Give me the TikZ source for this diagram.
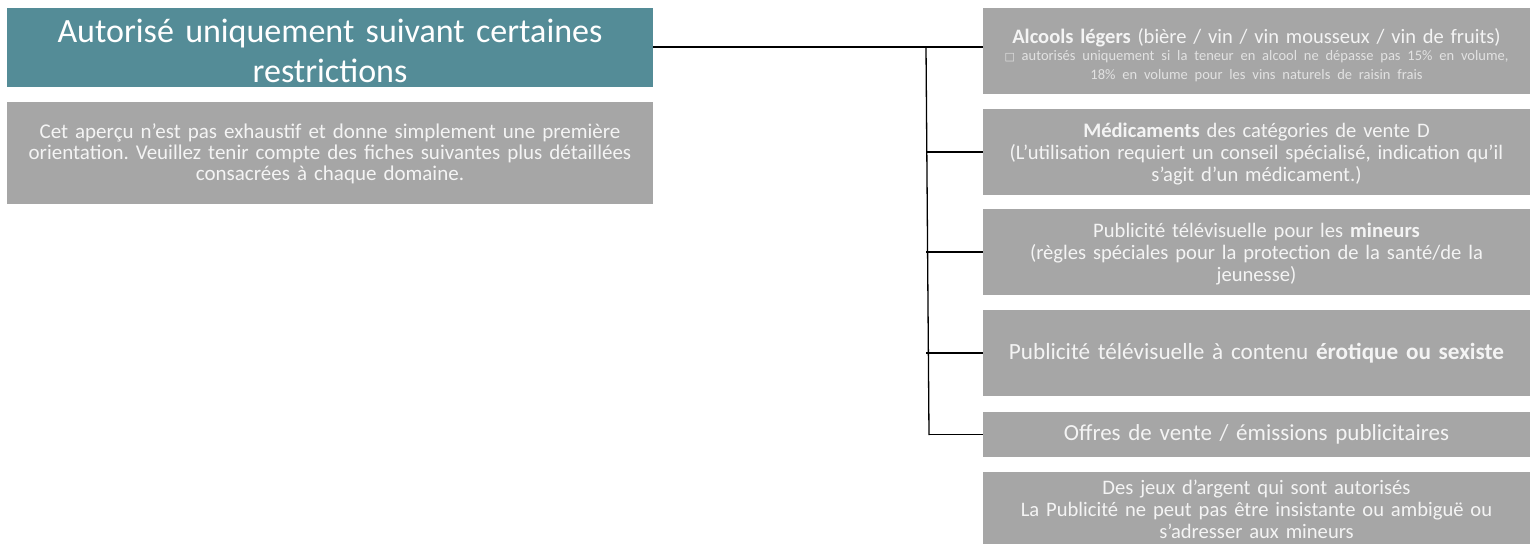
\documentclass[tikz,border=0pt]{standalone}
\usepackage{fontspec}
\setmainfont{Carlito}
\newfontfamily\symfont{DejaVu Sans}
\definecolor{teal1}{HTML}{548C97}
\definecolor{grey1}{HTML}{A6A6A6}
\definecolor{txt1}{HTML}{F4F4F4}
\definecolor{txt2}{HTML}{E2E2E2}
\frenchspacing
\begin{document}
\begin{tikzpicture}[x=1pt,y=-1pt,
  box/.style={fill=grey1,draw=none,inner sep=0pt,align=center,text=txt1,
    font=\fontsize{20.6}{22}\selectfont},
  rbox/.style={box,minimum width=547pt,text width=540pt},
  conn/.style={line width=1.3pt,black}]
\useasboundingbox (0,0) rectangle (1530,543);
\clip (0,0) rectangle (1530,543);
\node[box,fill=teal1,text=white,minimum width=646pt,minimum height=79pt,text width=640pt,
  font=\fontsize{34}{40}\selectfont] (title) at (330,47.5)
  {\rule{0pt}{31pt}Autorisé uniquement suivant certaines\\restrictions};
\node[box,minimum width=646pt,minimum height=102pt,text width=640pt,
  font=\fontsize{21}{21}\selectfont] (note) at (330,153)
  {\rule{0pt}{17pt}Cet aperçu n’est pas exhaustif et donne simplement une première\\orientation. Veuillez tenir compte des fiches suivantes plus détaillées\\consacrées à chaque domaine.};
\node[rbox,minimum height=86pt,font=\fontsize{20.5}{19}\selectfont] (b1) at (1256.5,51)
  {\rule{0pt}{23pt}\textbf{Alcools légers} (bière / vin / vin mousseux / vin de fruits)\\
   {\fontsize{14.5}{17}\selectfont\color{txt2}{\symfont\fontsize{11}{17}\selectfont □} autorisés uniquement si la teneur en alcool ne dépasse pas 15\% en volume,\\18\% en volume pour les vins naturels de raisin frais}};
\node[rbox,minimum height=86pt] (b2) at (1256.5,152)
  {\rule{0pt}{18pt}\textbf{Médicaments} des catégories de vente D\\(L’utilisation requiert un conseil spécialisé, indication qu’il\\s’agit d’un médicament.)};
\node[rbox,minimum height=86pt] (b3) at (1256.5,252)
  {\rule{0pt}{18pt}Publicité télévisuelle pour les \textbf{mineurs}\\(règles spéciales pour la protection de la santé/de la\\jeunesse)};
\node[rbox,minimum height=86pt,font=\fontsize{23.2}{24}\selectfont] (b4) at (1256.5,353)
  {Publicité télévisuelle à contenu \textbf{érotique ou sexiste}};
\node[rbox,minimum height=45pt,font=\fontsize{23}{24}\selectfont] (b5) at (1256.5,434.5)
  {Offres de vente / émissions publicitaires};
\node[rbox,minimum height=74pt] (b6) at (1256.5,509)
  {Des jeux d’argent qui sont autorisés\\La Publicité ne peut pas être insistante ou ambiguë ou\\s’adresser aux mineurs};
\coordinate (top) at (926,47);
\coordinate (bot) at (929,435);
\draw[conn] (title.east |- top) -- (top -| b1.west);
\draw[conn] (top) -- (bot);
\draw[conn] (b2.west -| top) -- (b2.west);
\draw[conn] (b3.west -| top) -- (b3.west);
\draw[conn] (b4.west -| top) -- (b4.west);
\draw[conn] (b5.west -| bot) -- (b5.west);
\end{tikzpicture}
\end{document}
